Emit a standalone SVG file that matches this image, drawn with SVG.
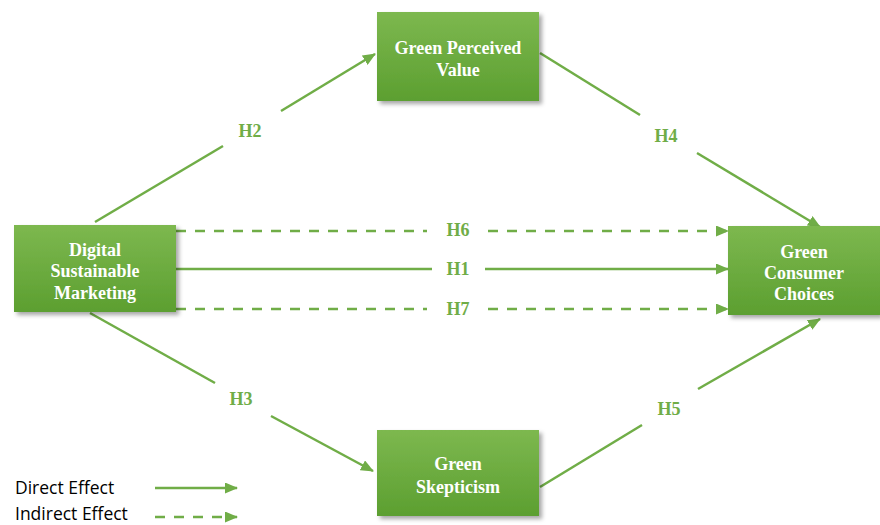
<svg xmlns="http://www.w3.org/2000/svg" width="880" height="525" viewBox="0 0 880 525">
<defs>
<linearGradient id="g" x1="0" y1="0" x2="0" y2="1">
<stop offset="0" stop-color="#7db84f"/>
<stop offset="1" stop-color="#5c9f30"/>
</linearGradient>
<filter id="sh" x="-10%" y="-10%" width="130%" height="130%">
<feDropShadow dx="3" dy="3" stdDeviation="2" flood-color="#000" flood-opacity="0.35"/>
</filter>
<marker id="ah" markerWidth="13" markerHeight="11" refX="12" refY="5.5" orient="auto" markerUnits="userSpaceOnUse">
<path d="M0,0 L13,5.5 L0,11 Z" fill="#70ad47"/>
</marker>
</defs>
<style>
.box{fill:url(#g);filter:url(#sh)}
.bt{font-family:"Liberation Serif",serif;font-weight:bold;font-size:18px;fill:#fff;text-anchor:middle}
.lbl{font-family:"Liberation Serif",serif;font-weight:bold;font-size:18px;fill:#70ad47;text-anchor:middle}
.ln{stroke:#70ad47;stroke-width:2.5;fill:none}
.dash{stroke-dasharray:10,9}
.leg{font-family:"Open Sans","Liberation Sans",sans-serif;font-size:17.5px;fill:#000}
</style>
<rect width="880" height="525" fill="#fff"/>
<g id="connectors">
<line class="ln" x1="95" y1="222" x2="223" y2="146"/>
<line class="ln" x1="281" y1="111" x2="375" y2="54" marker-end="url(#ah)"/>
<line class="ln" x1="540" y1="53" x2="640" y2="115"/>
<line class="ln" x1="697" y1="153" x2="820" y2="227" marker-end="url(#ah)"/>
<line class="ln" x1="90" y1="313" x2="215" y2="383"/>
<line class="ln" x1="271" y1="416" x2="373" y2="471" marker-end="url(#ah)"/>
<line class="ln" x1="540" y1="487" x2="642" y2="425"/>
<line class="ln" x1="698" y1="389" x2="820" y2="319" marker-end="url(#ah)"/>
<line class="ln dash" x1="176" y1="231" x2="427" y2="231"/>
<line class="ln dash" x1="488" y1="231" x2="728" y2="231" marker-end="url(#ah)"/>
<line class="ln" x1="176" y1="269" x2="432" y2="269"/>
<line class="ln" x1="485" y1="269" x2="728" y2="269" marker-end="url(#ah)"/>
<line class="ln dash" x1="176" y1="309" x2="427" y2="309"/>
<line class="ln dash" x1="488" y1="309" x2="728" y2="309" marker-end="url(#ah)"/>
<text class="lbl" x="250" y="137">H2</text>
<text class="lbl" x="666" y="142">H4</text>
<text class="lbl" x="241" y="405">H3</text>
<text class="lbl" x="669" y="415">H5</text>
<text class="lbl" x="458" y="236">H6</text>
<text class="lbl" x="458" y="275">H1</text>
<text class="lbl" x="458" y="315">H7</text>
</g>
<g id="gpv">
<rect class="box" x="377" y="12" width="162" height="89"/>
<text class="bt" x="458" y="54">Green Perceived</text>
<text class="bt" x="458" y="76">Value</text>
</g>
<g id="dsm">
<rect class="box" x="14" y="225" width="162" height="87"/>
<text class="bt" x="95" y="256">Digital</text>
<text class="bt" x="95" y="277">Sustainable</text>
<text class="bt" x="95" y="299">Marketing</text>
</g>
<g id="gcc">
<rect class="box" x="728" y="226" width="152" height="89"/>
<text class="bt" x="804" y="258">Green</text>
<text class="bt" x="804" y="279">Consumer</text>
<text class="bt" x="804" y="300">Choices</text>
</g>
<g id="gs">
<rect class="box" x="377" y="430" width="162" height="86"/>
<text class="bt" x="458" y="470">Green</text>
<text class="bt" x="458" y="493">Skepticism</text>
</g>
<g id="legend">
<text class="leg" x="15" y="494">Direct Effect</text>
<text class="leg" x="15" y="520">Indirect Effect</text>
<line class="ln" x1="155" y1="488" x2="237" y2="488" marker-end="url(#ah)"/>
<line class="ln dash" x1="155" y1="517" x2="237" y2="517" marker-end="url(#ah)"/>
</g>
</svg>
